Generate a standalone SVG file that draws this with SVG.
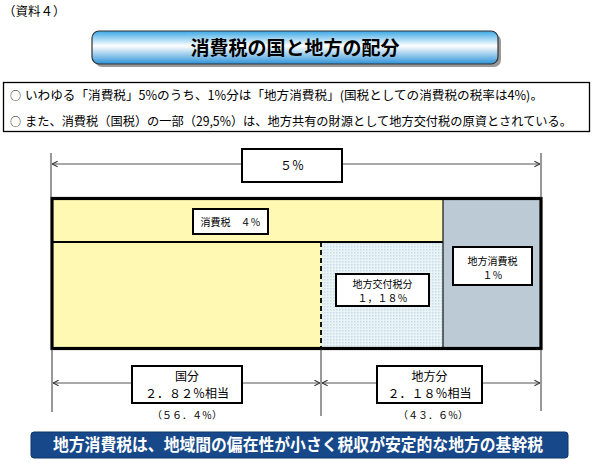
<svg xmlns="http://www.w3.org/2000/svg" width="592" height="466" viewBox="0 0 592 466">
<style>
text{font-family:"Noto Sans CJK JP","Liberation Sans",sans-serif;fill:#000}
.lbl{font-size:10px;text-anchor:middle}
.mid{font-size:12px;text-anchor:middle}
.box{fill:#fff;stroke:#000;stroke-width:2}
.tick{stroke:#333;stroke-width:1}
.arr{stroke:#555;stroke-width:1.2;fill:none;marker-start:url(#ah);marker-end:url(#ah)}
</style>
<defs>
<linearGradient id="tg" x1="0" y1="0" x2="0" y2="1">
<stop offset="0" stop-color="#3AA8E6"/>
<stop offset="0.45" stop-color="#FFFFFF"/>
<stop offset="1" stop-color="#2E93D8"/>
</linearGradient>
<pattern id="dots" width="3" height="3" patternUnits="userSpaceOnUse">
<rect width="3" height="3" fill="#EAF3F6"/>
<rect width="1.5" height="1.5" fill="#C4DDE6"/>
</pattern>
<marker id="ah" viewBox="0 0 10 10" refX="10" refY="5" markerWidth="7" markerHeight="7" orient="auto-start-reverse" markerUnits="userSpaceOnUse">
<path d="M2,1 L10,5 L2,9" fill="none" stroke="#333" stroke-width="1.5"/>
</marker>
</defs>
<rect width="592" height="466" fill="#fff"/>

<g id="ref-label"><text x="3" y="16" font-size="12.5">（資料４）</text></g>

<g id="title">
<rect x="95" y="34" width="406" height="33" rx="7" fill="#999"/>
<rect x="92" y="31" width="406" height="33" rx="7" fill="url(#tg)" stroke="#333" stroke-width="1.2"/>
<text x="295" y="55" font-size="19" font-weight="bold" text-anchor="middle">消費税の国と地方の配分</text>
</g>

<g id="info">
<rect x="3.5" y="82.5" width="586" height="49" fill="#fff" stroke="#000" stroke-width="1.3"/>
<text x="10" y="100" font-size="11">○</text>
<text x="25" y="100" font-size="12.5" textLength="518" lengthAdjust="spacingAndGlyphs">いわゆる「消費税」5%のうち、1%分は「地方消費税」(国税としての消費税の税率は4%)。</text>
<text x="10" y="126" font-size="11">○</text>
<text x="25" y="126" font-size="12.5" textLength="547" lengthAdjust="spacingAndGlyphs">また、消費税（国税）の一部（29,5%）は、地方共有の財源として地方交付税の原資とされている。</text>
</g>

<g id="bars">
<rect x="52" y="198.5" width="391" height="150" fill="#FFF9B3"/>
<rect x="321" y="242" width="122" height="106.5" fill="url(#dots)"/>
<rect x="443" y="198.5" width="98" height="150" fill="#BCCAD5"/>
<line x1="52" y1="242" x2="443" y2="242" stroke="#000" stroke-width="1.8"/>
<line x1="443" y1="198" x2="443" y2="349" stroke="#222" stroke-width="1.3"/>
<line x1="321" y1="242" x2="321" y2="349" stroke="#000" stroke-width="1.8" stroke-dasharray="5,3"/>
<rect x="52" y="198.5" width="489" height="150" fill="none" stroke="#000" stroke-width="3.2"/>
</g>

<g id="connectors">
<line class="tick" x1="51" y1="153" x2="51" y2="198"/>
<line class="tick" x1="541" y1="153" x2="541" y2="198"/>
<line class="arr" x1="52" y1="164" x2="540" y2="164"/>
<line class="tick" x1="52" y1="349" x2="52" y2="412"/>
<line class="tick" x1="321" y1="349" x2="321" y2="416" stroke="#666"/>
<line class="tick" x1="541" y1="349" x2="541" y2="411"/>
<line class="arr" x1="53" y1="383" x2="320" y2="383"/>
<line class="arr" x1="322" y1="383" x2="540" y2="383"/>
</g>

<g id="total">
<rect class="box" x="242" y="149" width="100" height="33" stroke-width="1.6"/>
<text class="mid" x="292" y="170" font-size="11.5">５％</text>
</g>

<g id="national">
<rect class="box" x="193" y="209" width="75" height="25"/>
<text class="lbl" x="230.5" y="225.5">消費税　４％</text>
</g>

<g id="kofuzei">
<rect class="box" x="336" y="274" width="93" height="32"/>
<text class="lbl" x="382.5" y="288">地方交付税分</text>
<text class="lbl" x="382.5" y="302">１，１８％</text>
</g>

<g id="chiho-shohizei">
<rect class="box" x="453" y="247" width="79" height="38"/>
<text class="lbl" x="492.5" y="264.5">地方消費税</text>
<text class="lbl" x="492.5" y="278.5">１％</text>
</g>

<g id="kuni-bun">
<rect class="box" x="132" y="366" width="110" height="37"/>
<text class="mid" x="187" y="381">国分</text>
<text class="mid" x="187" y="398">２．８２％相当</text>
<text class="lbl" x="187" y="419">（５６．４％）</text>
</g>

<g id="chiho-bun">
<rect class="box" x="377" y="366" width="105" height="37"/>
<text class="mid" x="429.5" y="381">地方分</text>
<text class="mid" x="429.5" y="398">２．１８％相当</text>
<text class="lbl" x="433" y="419">（４３．６％）</text>
</g>

<g id="banner">
<rect x="31" y="432" width="537" height="26" rx="3" fill="#17498A" stroke="#0E3468" stroke-width="1"/>
<text x="298" y="451" font-size="16.5" font-weight="bold" text-anchor="middle" style="fill:#fff" textLength="490" lengthAdjust="spacingAndGlyphs">地方消費税は、地域間の偏在性が小さく税収が安定的な地方の基幹税</text>
</g>
</svg>
